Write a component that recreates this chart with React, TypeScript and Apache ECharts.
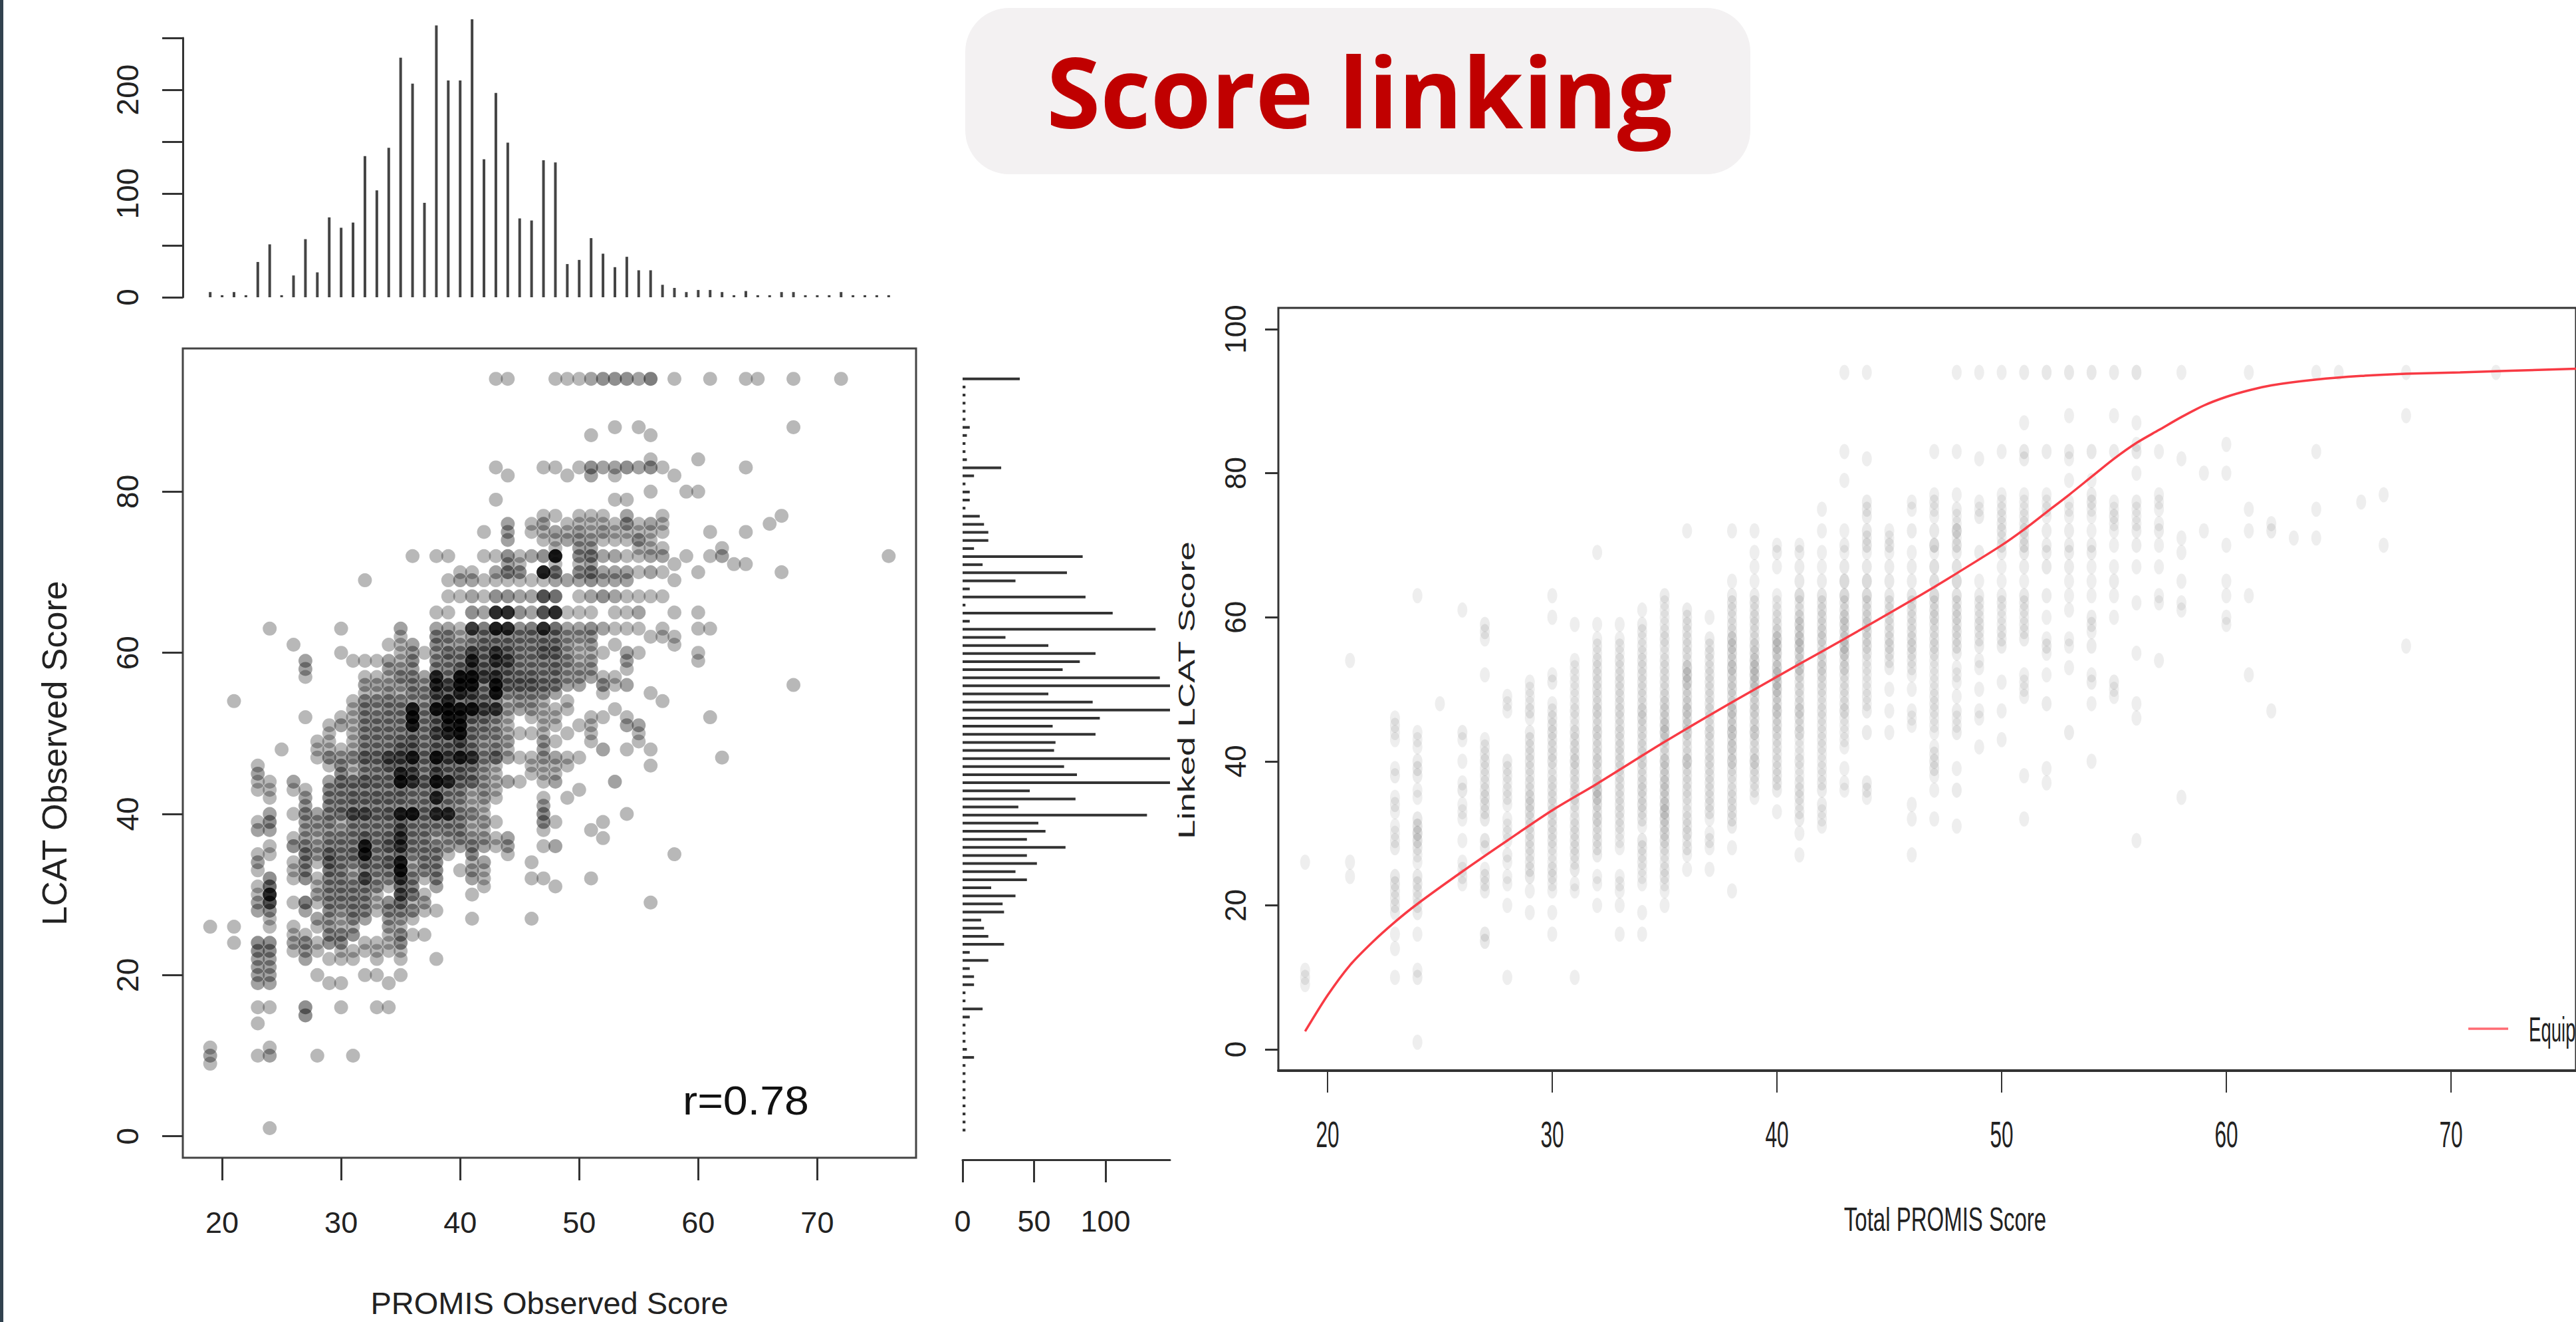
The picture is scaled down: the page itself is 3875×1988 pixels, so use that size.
import React, { useEffect, useRef } from "react";
import * as echarts from "echarts";

// Marginal histogram of PROMIS scores (x = 19..76)
const promisScores = [19,20,21,22,23,24,25,26,27,28,29,30,31,32,33,34,35,36,37,38,39,40,41,42,43,44,45,46,47,48,49,50,51,52,53,54,55,56,57,58,59,60,61,62,63,64,65,66,67,68,69,70,71,72,73,74,75,76];
const promisCounts = [5,2,5,2,34,51,2,21,56,24,77,67,72,136,103,144,231,206,91,262,209,209,268,133,197,149,76,74,132,130,32,36,57,42,29,39,26,26,12,9,5,7,7,5,2,6,2,2,5,5,2,2,2,5,2,2,2,2];

// Marginal histogram of LCAT scores (score 94 down to 1)
const lcatCounts = [40,2,2,2,2,2,5,3,2,2,3,27,8,2,5,5,2,12,15,18,18,8,84,14,73,37,5,86,2,105,5,135,30,60,93,82,70,138,150,60,91,160,96,63,93,65,64,150,71,80,150,47,79,39,129,53,58,45,72,45,52,37,45,20,37,28,29,13,15,18,29,5,18,5,8,8,2,2,14,5,2,2,2,3,8,2,2,2,2,2,2,2,2,2];

// Scatter rows: for one LCAT score, alternating PROMIS score and overlap count
const s94=[43,1,44,1,48,1,49,1,50,1,51,2,52,3,53,3,54,3,55,2,56,4,58,1,61,1,64,1,65,1,68,1,72,1];
const s88=[53,1,55,1,68,1];
const s87=[51,1,56,1];
const s84=[56,1,60,1];
const s83=[43,1,47,1,48,1,50,1,51,3,52,2,53,2,54,3,55,2,56,3,57,1,64,1];
const s82=[44,1,49,1,51,2,53,1,58,1];
const s80=[56,1,59,1,60,1];
const s79=[43,1,53,1,54,1];
const s77=[47,1,48,1,50,1,51,1,52,1,54,2,57,1,67,1];
const s76=[44,2,46,1,47,2,49,1,50,1,51,1,52,1,53,1,54,3,55,1,56,2,57,1,66,1];
const s75=[42,1,44,2,46,1,47,1,48,2,49,1,50,2,51,1,52,2,53,1,54,1,55,1,56,1,57,1,61,1,64,1];
const s74=[44,2,47,1,48,1,49,2,50,2,51,2,52,1,53,1,54,1,55,3,56,1];
const s73=[48,1,50,2,51,2,55,1,56,1,57,1,62,1];
const s72=[36,1,38,1,39,1,42,1,43,1,44,3,45,1,46,2,47,3,48,10,50,3,51,4,52,2,53,2,54,1,55,1,56,2,57,2,59,1,61,1,62,2,76,1];
const s71=[44,2,45,1,48,1,50,1,51,2,58,1,63,1,64,1];
const s70=[40,1,41,1,43,2,44,4,45,3,47,9,48,5,50,3,51,4,52,2,53,2,54,2,55,1,56,2,57,1,60,1,67,1];
const s69=[32,1,39,1,40,2,41,2,42,1,43,1,44,1,45,1,46,1,47,1,48,2,49,2,50,2,51,3,52,2,53,2,54,2,58,1];
const s67=[39,1,40,1,41,2,42,1,43,3,44,3,45,2,46,2,47,6,48,5,50,1,51,2,52,3,53,2,54,1,55,1,56,1,57,1];
const s65=[38,1,39,1,41,3,42,2,43,8,44,8,45,3,46,2,47,6,48,8,49,1,50,1,51,1,53,1,54,1,55,2,58,1,60,1];
const s63=[24,1,30,1,35,2,38,2,39,2,40,1,41,7,42,4,43,9,44,8,45,3,46,4,47,8,48,5,49,2,50,2,51,3,52,2,53,1,54,1,55,1,57,1,60,1,61,1];
const s62=[35,1,38,3,39,3,40,1,41,2,42,3,43,3,44,3,45,3,46,3,47,3,48,3,49,2,50,2,51,2,56,1,57,1,58,1];
const s61=[26,1,34,1,35,1,36,2,38,3,39,2,40,2,41,3,42,4,43,4,44,4,45,3,46,3,47,4,48,4,49,2,50,1,51,2,53,1,58,1];
const s60=[30,1,35,1,36,2,37,1,38,2,39,4,40,3,41,6,42,4,43,7,44,5,45,3,46,3,47,5,48,5,49,2,50,1,51,1,52,1,54,2,55,1,60,1];
const s59=[27,2,31,1,32,1,33,1,34,2,35,1,36,3,38,3,39,3,40,3,41,8,42,4,43,7,44,6,45,3,46,3,47,3,48,3,49,3,50,1,51,2,54,2,60,1];
const s58=[27,2,34,2,35,2,36,2,38,3,39,3,40,5,41,6,42,5,43,5,44,5,45,3,46,3,47,3,48,4,49,2,50,2,51,2,54,1];
const s57=[27,1,32,1,33,1,34,1,35,3,36,3,37,2,38,8,39,3,40,10,41,10,42,6,43,7,44,4,45,4,46,4,47,3,48,3,49,2,50,2,51,2,52,1,53,1];
const s56=[32,2,33,2,34,2,35,2,36,3,37,2,38,8,39,6,40,10,41,10,42,3,43,10,44,5,45,5,46,5,47,4,48,4,49,2,50,2,52,3,53,1,54,2,68,1];
const s55=[32,1,33,1,34,2,35,1,36,3,37,3,38,6,39,5,40,8,41,6,42,4,43,10,44,3,45,3,46,3,47,3,48,2,52,1,56,1];
const s54=[21,1,31,1,32,3,33,3,34,3,35,3,36,2,37,2,38,5,39,8,40,4,41,5,42,4,43,3,44,1,45,2,46,2,47,1,49,1,57,1];
const s53=[31,1,32,3,33,2,34,3,35,3,36,9,37,3,38,10,39,10,40,10,41,10,42,6,43,7,44,2,45,2,46,2,47,1,48,1,49,1,53,1];
const s52=[27,1,30,1,31,1,32,3,33,3,34,3,35,3,36,10,37,3,38,5,39,10,40,9,41,5,42,4,43,3,44,1,46,1,47,1,48,1,51,1,52,1,54,1,61,1];
const s51=[29,1,30,2,31,1,32,3,33,3,34,3,35,3,36,9,37,3,38,5,39,8,40,10,41,3,42,3,43,2,44,1,47,1,48,1,50,1,51,1,54,2,55,2];
const s50=[29,1,31,1,32,3,33,3,34,3,35,3,36,4,37,3,38,6,39,8,40,10,41,4,42,3,43,3,44,1,45,1,46,1,47,1,49,1,51,1,55,1];
const s49=[28,1,29,1,31,1,32,3,33,3,34,3,35,4,36,5,37,3,38,4,39,4,40,6,41,3,42,2,43,2,44,2,47,2,48,1,51,1,55,1];
const s48=[25,1,28,1,29,1,30,1,31,1,32,3,33,3,34,3,35,5,36,5,37,3,38,5,39,5,40,5,41,4,42,2,43,3,44,1,47,2,52,2,54,1,56,1];
const s47=[28,1,29,3,30,2,31,3,32,5,33,4,34,6,35,6,36,9,37,4,38,10,39,6,40,9,41,7,42,3,43,5,44,2,45,1,46,1,47,2,48,2,49,1,50,1,62,1];
const s46=[23,1,29,1,30,3,31,1,32,3,33,3,34,5,35,5,36,5,37,3,38,5,39,4,40,4,41,4,42,2,43,1,46,1,47,1,48,1,49,1,56,1];
const s45=[23,2,30,3,31,1,32,3,33,3,34,3,35,8,36,6,37,3,38,6,39,4,40,5,41,3,42,2,43,1,46,1,47,1,48,1];
const s44=[23,1,24,1,26,2,29,2,30,4,31,4,32,5,33,4,34,4,35,10,36,7,37,5,38,10,39,8,40,4,41,5,42,2,43,1,44,2,45,1,47,1,48,2,53,2];
const s43=[23,1,24,1,26,1,27,1,29,3,30,3,31,3,32,3,33,3,34,3,35,4,36,3,37,3,38,4,39,3,40,3,41,1,42,2,43,1,50,1];
const s42=[24,1,27,2,29,3,30,3,31,4,32,4,33,4,34,4,35,4,36,3,37,3,38,8,39,3,40,3,41,1,42,2,43,1,47,1,49,1];
const s41=[27,2,29,3,30,3,31,3,32,3,33,3,34,3,35,3,36,3,37,3,38,3,39,3,40,2,41,1,42,1,47,2];
const s40=[24,2,26,1,27,3,28,2,29,3,30,4,31,6,32,6,33,4,34,5,35,9,36,10,37,4,38,8,39,8,40,3,41,3,42,1,47,3,54,1];
const s39=[23,1,24,3,27,2,28,2,29,3,30,1,31,3,32,3,33,3,34,3,35,5,36,3,37,3,38,3,39,3,40,3,41,1,42,2,43,1,47,3,48,1,52,1];
const s38=[23,2,24,2,27,2,28,2,29,2,30,2,31,3,32,3,33,3,34,3,35,6,36,3,37,3,38,3,39,3,40,3,41,1,42,1,47,1,51,1];
const s37=[26,1,27,2,28,1,29,3,30,3,31,3,32,5,33,3,34,4,35,7,36,3,37,3,38,1,39,2,40,3,41,2,42,2,43,1,44,2,52,1];
const s36=[24,1,26,3,27,3,28,2,29,3,30,3,31,3,32,9,33,3,34,5,35,7,36,3,37,3,38,3,39,2,40,2,41,3,42,2,43,1,44,2,47,1,48,2];
const s35=[23,1,24,1,27,4,28,2,29,5,30,3,31,4,32,9,33,3,34,3,35,5,36,3,37,3,38,3,39,1,41,3,44,1,58,1];
const s34=[23,2,26,1,27,3,28,1,29,5,30,3,31,3,32,5,33,3,34,5,35,9,36,1,37,3,38,3,41,1,42,2,46,1];
const s33=[23,1,26,1,27,3,29,4,30,3,31,1,32,3,33,3,34,3,35,10,36,2,37,3,38,3,40,1,41,2,42,1];
const s32=[24,3,26,1,27,3,28,1,29,3,30,3,31,2,32,6,33,2,34,3,35,7,36,3,37,1,38,3,41,2,42,1,46,1,47,1,51,1];
const s31=[23,1,24,5,28,1,29,3,30,3,31,3,32,3,33,3,34,1,35,5,36,3,38,2,42,1,48,1];
const s30=[23,1,24,8,28,2,29,3,30,3,31,3,32,3,33,1,35,6,36,4,37,1,41,1];
const s29=[23,2,24,6,26,1,27,4,28,1,29,3,30,3,31,3,32,3,33,1,34,3,35,5,36,1,37,2,56,1];
const s28=[23,2,24,3,27,2,29,3,30,2,31,3,32,3,33,1,34,3,35,3,36,3,37,1,38,1];
const s27=[24,1,28,2,29,2,30,1,31,3,32,2,34,2,35,2,36,1,41,1,46,1];
const s26=[19,1,21,1,24,1,26,1,28,1,29,2,30,1,31,1,34,2,35,1];
const s25=[26,1,27,1,29,3,30,3,31,3,34,1,35,3,36,1,37,1];
const s24=[21,1,23,3,24,3,26,2,27,3,28,1,29,3,30,3,32,1,33,1,34,1,35,3];
const s23=[23,3,24,3,26,1,27,2,28,1,30,1,31,1,32,1,33,1,34,1,35,1];
const s22=[23,2,24,2,27,2,29,1,30,1,31,1,33,1,35,1,38,1];
const s21=[23,2,24,2];
const s20=[23,2,24,2,28,1,32,1,33,1,35,1];
const s19=[23,2,24,2,29,1,30,1,34,1];
const s16=[23,1,24,1,27,3,30,1,33,1,34,1];
const s15=[27,3];
const s14=[23,1];
const s11=[19,1,24,1];
const s10=[19,2,23,1,24,2,28,1,31,1];
const s9=[19,1];
const s1=[24,1];

const scoreRows: [number, number[]][] = [[94,s94],[88,s88],[87,s87],[84,s84],[83,s83],[82,s82],[80,s80],[79,s79],[77,s77],[76,s76],[75,s75],[74,s74],[73,s73],[72,s72],[71,s71],[70,s70],[69,s69],[67,s67],[65,s65],[63,s63],[62,s62],[61,s61],[60,s60],[59,s59],[58,s58],[57,s57],[56,s56],[55,s55],[54,s54],[53,s53],[52,s52],[51,s51],[50,s50],[49,s49],[48,s48],[47,s47],[46,s46],[45,s45],[44,s44],[43,s43],[42,s42],[41,s41],[40,s40],[39,s39],[38,s38],[37,s37],[36,s36],[35,s35],[34,s34],[33,s33],[32,s32],[31,s31],[30,s30],[29,s29],[28,s28],[27,s27],[26,s26],[25,s25],[24,s24],[23,s23],[22,s22],[21,s21],[20,s20],[19,s19],[16,s16],[15,s15],[14,s14],[11,s11],[10,s10],[9,s9],[1,s1]];

// Equipercentile linking curve
const linkX = [19,20,21,22,23,24,26,28,30,32,35,38,41,43,45.8,47,48,50,51,52,53,54,55,56,57,58,59,60,61,62,64,66,68,70.4,75.6];
const linkY = [2.5,7.5,11.7,14.9,17.7,20.2,24.7,29,33.2,36.9,42.7,48.2,53.5,57,62,64.2,66.1,70,72.2,74.6,77,79.5,82,84.2,86,87.8,89.4,90.6,91.5,92.2,93,93.5,93.8,94,94.5];

const rightTickValues = [20,30,40,50,60,70];

const FONT = '"Liberation Sans", Arial, sans-serif';
const INK = "#222222";

function dots(base: number, weight: number, heavyWeight: number) {
  const out: any[] = [];
  for (const [score, row] of scoreRows) {
    for (let i = 0; i < row.length; i += 2) {
      const n = row[i + 1];
      const layers = 1 + (Math.min(n, 5) - 1) * weight + Math.max(n - 5, 0) * heavyWeight;
      out.push({ value: [row[i], score], itemStyle: { opacity: 1 - Math.pow(1 - base, layers) } });
    }
  }
  return out;
}

const ticksFor = (values: number[]) => ({ show: true, customValues: values });

export default function App() {
  const ref = useRef<HTMLDivElement>(null);
  useEffect(() => {
    document.body.style.margin = "0";
    document.body.style.background = "#ffffff";
    const chart = echarts.init(ref.current!, null, { renderer: "svg" });
    const lineStyle = { color: "#333333", width: 3 };
    const baseGraphic: any[] = [
      { type: "rect", x: 0, y: 0, shape: { width: 5, height: 1988 }, style: { fill: "#31424F" } },
      { type: "rect", x: 1452, y: 12, shape: { width: 1181, height: 250, r: 66 }, style: { fill: "#F3F1F2" }, z: -1 },
      {
        type: "text", x: 2045, y: 136,
        style: { text: "Score linking", font: '700 147px "Open Sans", sans-serif', fill: "#C00000", textAlign: "center", textVerticalAlign: "middle" },
      },
      {
        type: "text", x: 1122, y: 1655, scaleX: 1.07,
        style: { text: "r=0.78", font: `62px ${FONT}`, fill: "#111111", textAlign: "center", textVerticalAlign: "middle" },
      },
      {
        type: "text", x: 2926, y: 1834, scaleX: 0.66,
        style: { text: "Total PROMIS Score", font: `50px ${FONT}`, fill: INK, textAlign: "center", textVerticalAlign: "middle" },
      },
      {
        type: "text", x: 1785, y: 1038, rotation: Math.PI / 2, scaleX: 1.45,
        style: { text: "Linked LCAT Score", font: `36px ${FONT}`, fill: INK, textAlign: "center", textVerticalAlign: "middle" },
      },
      { type: "line", shape: { x1: 3713, y1: 1547, x2: 3773, y2: 1547 }, style: { stroke: "#FF6B73", lineWidth: 3.5 } },
      {
        type: "text", x: 3804, y: 1548, scaleX: 0.53,
        style: { text: "Equip", font: `52px ${FONT}`, fill: INK, textAlign: "left", textVerticalAlign: "middle" },
      },
    ];
    chart.setOption({
      animation: false,
      backgroundColor: "#ffffff",
      grid: [
        { left: 275, top: 57, width: 1103, height: 390 },
        { left: 275, top: 524, width: 1103, height: 1220, show: true, borderColor: "#444444", borderWidth: 3 },
        { left: 1448, top: 524, width: 312, height: 1220 },
        { left: 1923, top: 463, width: 1952, height: 1147, show: true, borderColor: "#333333", borderWidth: 3 },
      ],
      xAxis: [
        { gridIndex: 0, type: "value", min: 16.7, max: 78.3, show: false },
        {
          gridIndex: 1, type: "value", min: 16.7, max: 78.3, splitLine: { show: false },
          axisLine: { show: false, onZero: false },
          axisTick: { ...ticksFor([20,30,40,50,60,70]), length: 34, lineStyle },
          axisLabel: { customValues: [20,30,40,50,60,70], fontFamily: FONT, fontSize: 45, color: INK, margin: 75 },
          name: "PROMIS Observed Score", nameLocation: "middle", nameGap: 195,
          nameTextStyle: { fontFamily: FONT, fontSize: 47, color: INK },
        },
        {
          gridIndex: 2, type: "value", min: 0, max: 145.1, splitLine: { show: false },
          axisLine: { show: true, onZero: false, lineStyle },
          axisTick: { ...ticksFor([0,50,100]), length: 34, lineStyle },
          axisLabel: { customValues: [0,50,100], fontFamily: FONT, fontSize: 45, color: INK, margin: 70 },
        },
        {
          gridIndex: 3, type: "value", min: 17.81, max: 75.56, splitLine: { show: false },
          axisLine: { show: true, onZero: false, lineStyle: { color: "#333333", width: 4 } },
          axisTick: { ...ticksFor(rightTickValues), length: 33, lineStyle: { color: "#333333", width: 2 } },
          axisLabel: { show: false },
        },
      ],
      yAxis: [
        {
          gridIndex: 0, type: "value", min: 0, max: 250, splitLine: { show: false },
          axisLine: { show: true, lineStyle },
          axisTick: { ...ticksFor([0,50,100,150,200,250]), length: 31, lineStyle },
          axisLabel: { customValues: [0,100,200], rotate: 90, fontFamily: FONT, fontSize: 46, color: INK, margin: 60 },
        },
        {
          gridIndex: 1, type: "value", min: -2.67, max: 97.77, splitLine: { show: false },
          axisLine: { show: false },
          axisTick: { ...ticksFor([0,20,40,60,80]), length: 31, lineStyle },
          axisLabel: { customValues: [0,20,40,60,80], rotate: 90, fontFamily: FONT, fontSize: 46, color: INK, margin: 60 },
          name: "LCAT Observed Score", nameLocation: "middle", nameGap: 167,
          nameTextStyle: { fontFamily: FONT, fontSize: 52, color: INK },
        },
        { gridIndex: 2, type: "value", min: -2.67, max: 97.77, show: false },
        {
          gridIndex: 3, type: "value", min: -2.95, max: 102.95, splitLine: { show: false },
          axisLine: { show: false },
          axisTick: { ...ticksFor([0,20,40,60,80,100]), length: 20, lineStyle },
          axisLabel: { customValues: [0,20,40,60,80,100], rotate: 90, fontFamily: FONT, fontSize: 44, color: INK, margin: 43 },
        },
      ],
      series: [
        {
          type: "bar", name: "PROMIS counts", xAxisIndex: 0, yAxisIndex: 0, barWidth: 4, clip: false,
          itemStyle: { color: "#444444" },
          data: promisScores.map((x, i) => [x, promisCounts[i]]),
        },
        {
          type: "scatter", name: "Observed", xAxisIndex: 1, yAxisIndex: 1, symbol: "circle", symbolSize: 21,
          itemStyle: { color: "#000000" }, data: dots(0.28, 0.38, 1.0), silent: true,
        },
        {
          type: "custom", name: "LCAT counts", xAxisIndex: 2, yAxisIndex: 2, clip: true,
          encode: { x: 0, y: 1 },
          data: lcatCounts.map((v, i) => [v, 94 - i]),
          renderItem: (_: any, api: any) => {
            const a = api.coord([0, api.value(1)]);
            const b = api.coord([api.value(0), api.value(1)]);
            return { type: "rect", shape: { x: a[0], y: a[1] - 2, width: b[0] - a[0], height: 4 }, style: { fill: "#333333" } };
          },
        },
        {
          type: "scatter", name: "Linked", xAxisIndex: 3, yAxisIndex: 3, symbol: "circle", symbolSize: [15, 23],
          itemStyle: { color: "#000000" }, data: dots(0.065, 0.2, 0.15), silent: true,
        },
        {
          type: "line", name: "Equipercentile", xAxisIndex: 3, yAxisIndex: 3, symbol: "none", smooth: 0.3,
          lineStyle: { color: "#F83A44", width: 3.5 }, z: 5,
          data: linkX.map((x, i) => [x, linkY[i]]),
        },
      ],
      graphic: baseGraphic,
    });
    // The right panel's x tick labels are horizontally condensed, so they are
    // placed through the axis scale as scaled text.
    const tickLabels = rightTickValues.map((v) => ({
      type: "text",
      x: chart.convertToPixel({ xAxisIndex: 3 }, v) as number,
      y: 1706,
      scaleX: 0.565,
      style: { text: String(v), font: `56px ${FONT}`, fill: INK, textAlign: "center", textVerticalAlign: "middle" },
    }));
    chart.setOption({ graphic: [...baseGraphic, ...tickLabels] });
    return () => chart.dispose();
  }, []);
  return <div ref={ref} style={{ position: "absolute", left: 0, top: 0, width: 3875, height: 1988 }} />;
}
